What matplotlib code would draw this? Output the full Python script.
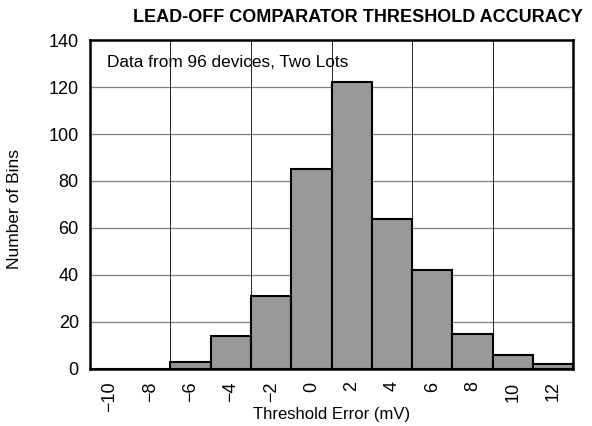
import matplotlib
matplotlib.use("Agg")
import matplotlib.pyplot as plt

plt.rcParams['font.family'] = ['Liberation Sans', 'DejaVu Sans']

bin_centers = [-10, -8, -6, -4, -2, 0, 2, 4, 6, 8, 10, 12]
counts = [0, 0, 3, 14, 31, 85, 122, 64, 42, 15, 6, 2]
xticks = [-10, -8, -6, -4, -2, 0, 2, 4, 6, 8, 10, 12]
xtick_labels = ['\u221210', '\u22128', '\u22126', '\u22124', '\u22122', '0', '2', '4', '6', '8', '10', '12']
yticks = [0, 20, 40, 60, 80, 100, 120, 140]
vgrid = [-7, -3, 1, 5, 9]

fig = plt.figure(figsize=(5.92, 4.26), dpi=100)
ax = fig.add_axes([0.152, 0.134, 0.816, 0.772])

for v in yticks[1:-1]:
    ax.axhline(v, color='#808080', lw=0.9, zorder=1)
for v in vgrid:
    ax.axvline(v, color='black', lw=0.6, zorder=1)

ax.bar(bin_centers, counts, width=2, color='#999999', edgecolor='black', linewidth=1.5, zorder=2)

ax.set_xlim(-11, 13)
ax.set_ylim(0, 140)
ax.set_xticks(xticks)
ax.set_xticklabels(xtick_labels, rotation=90, fontsize=13)
ax.set_yticks(yticks)
ax.set_yticklabels([str(v) for v in yticks], fontsize=13)
ax.tick_params(axis='y', length=0, pad=8)
ax.tick_params(axis='x', length=0, pad=9)
for s in ax.spines.values():
    s.set_linewidth(1.8)
    s.set_zorder(3)

fig.text(0.5 * (0.152 + 0.968), 1 - 414 / 426, 'Threshold Error (mV)', fontsize=12, ha='center', va='center')
fig.text(15 / 592, 1 - 209 / 426, 'Number of Bins', fontsize=12.5, ha='center', va='center', rotation=90)
fig.text(583 / 592, 1 - 18 / 426, 'LEAD-OFF COMPARATOR THRESHOLD ACCURACY', fontsize=13, fontweight='bold', ha='right', va='center')
ax.text(0.035, 0.933, 'Data from 96 devices, Two Lots', transform=ax.transAxes, fontsize=12.4, va='center', ha='left')

fig.savefig('out.png', dpi=100)
